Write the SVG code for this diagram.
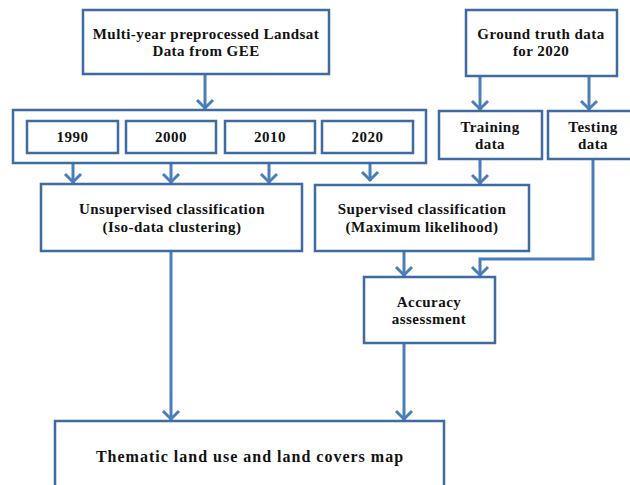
<svg xmlns="http://www.w3.org/2000/svg" width="630" height="485" viewBox="0 0 630 485">
<style>
.b{fill:#fff;stroke:#3f6aa2;stroke-width:2.5}
.t{font-family:"Liberation Serif","Times New Roman",serif;font-weight:bold;font-size:15px;letter-spacing:0.45px;fill:#111;text-anchor:middle}
.c{fill:none;stroke:#4a7ebb;stroke-width:3}
</style>
<defs>
<marker id="a" markerUnits="userSpaceOnUse" viewBox="0 0 20 20" markerWidth="20" markerHeight="20" refX="11" refY="10" orient="auto">
<path d="M2,2 L10,10 L2,18" fill="none" stroke="#4a7ebb" stroke-width="3"/>
</marker>
</defs>
<rect width="630" height="485" fill="#fff"/>
<g id="connectors">
<path class="c" d="M205,75 V109" marker-end="url(#a)"/>
<path class="c" d="M73,154 V183" marker-end="url(#a)"/>
<path class="c" d="M171,154 V183" marker-end="url(#a)"/>
<path class="c" d="M269,154 V183" marker-end="url(#a)"/>
<path class="c" d="M370,154 V181" marker-end="url(#a)"/>
<path class="c" d="M480,77 V110" marker-end="url(#a)"/>
<path class="c" d="M589,77 V110" marker-end="url(#a)"/>
<path class="c" d="M480,160 V184" marker-end="url(#a)"/>
<path class="c" d="M593,160 V259 H480 V276" marker-end="url(#a)"/>
<path class="c" d="M404,252 V276" marker-end="url(#a)"/>
<path class="c" d="M171,252 V420" marker-end="url(#a)"/>
<path class="c" d="M404,344 V420" marker-end="url(#a)"/>
</g>
<g id="landsat"><rect class="b" x="83" y="10" width="246" height="64"/>
<text class="t" x="206" y="39">Multi-year preprocessed Landsat</text>
<text class="t" x="206" y="56">Data from GEE</text></g>
<g id="years"><rect class="b" x="13" y="110" width="413" height="53"/></g>
<g id="y1990"><rect class="b" x="27" y="121" width="91" height="32"/><text class="t" x="72.5" y="142">1990</text></g>
<g id="y2000"><rect class="b" x="126" y="121" width="90" height="32"/><text class="t" x="171" y="142">2000</text></g>
<g id="y2010"><rect class="b" x="225" y="121" width="90" height="32"/><text class="t" x="270" y="142">2010</text></g>
<g id="y2020"><rect class="b" x="322" y="121" width="91" height="32"/><text class="t" x="367.5" y="142">2020</text></g>
<g id="ground"><rect class="b" x="466" y="10" width="151" height="66"/>
<text class="t" x="541" y="39">Ground truth data</text>
<text class="t" x="541" y="56">for 2020</text></g>
<g id="training"><rect class="b" x="439" y="111" width="103" height="48"/>
<text class="t" x="490" y="132">Training</text><text class="t" x="490" y="149">data</text></g>
<g id="testing"><rect class="b" x="548" y="111" width="86" height="48"/>
<text class="t" x="593" y="132">Testing</text><text class="t" x="593" y="149">data</text></g>
<g id="unsupervised"><rect class="b" x="41" y="184" width="261" height="67"/>
<text class="t" x="172" y="214">Unsupervised classification</text>
<text class="t" x="172" y="232">(Iso-data clustering)</text></g>
<g id="supervised"><rect class="b" x="315" y="185" width="214" height="66"/>
<text class="t" x="422" y="214">Supervised classification</text>
<text class="t" x="422" y="232">(Maximum likelihood)</text></g>
<g id="accuracy"><rect class="b" x="364" y="277" width="131" height="66"/>
<text class="t" x="429" y="307">Accuracy</text>
<text class="t" x="429" y="324">assessment</text></g>
<g id="thematic"><rect class="b" x="55" y="421" width="389" height="70"/>
<text class="t" x="250" y="462" style="font-size:16px;letter-spacing:1px">Thematic land use and land covers map</text></g>
</svg>
